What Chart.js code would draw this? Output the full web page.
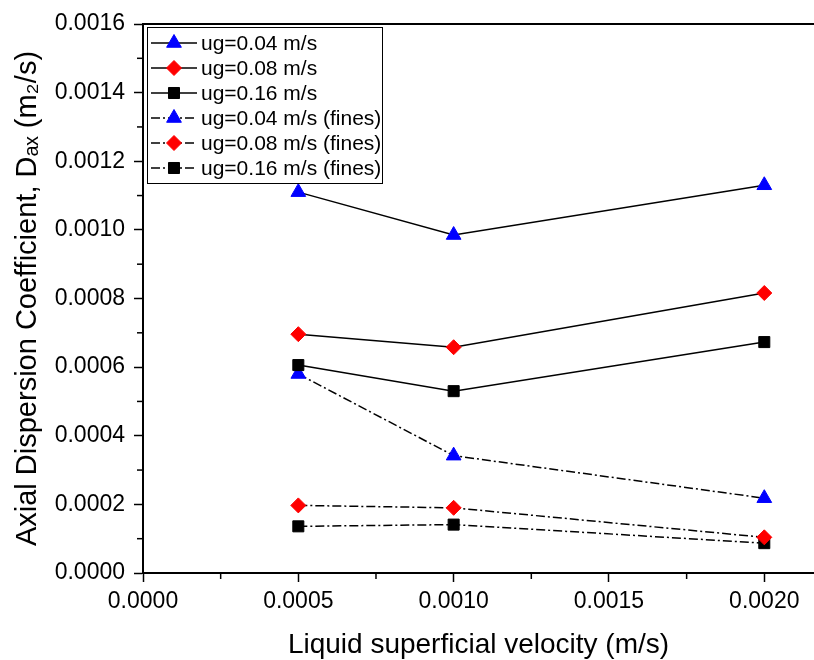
<!DOCTYPE html>
<html>
<head>
<meta charset="utf-8">
<title>Axial Dispersion Coefficient</title>
<script src="https://cdn.jsdelivr.net/npm/chart.js@4/dist/chart.umd.min.js"></script>
<style>
  html, body { margin: 0; padding: 0; background: #fff; }
  #wrap { width: 814px; height: 660px; position: relative; }
</style>
</head>
<body>
<div id="wrap"><canvas id="chart"></canvas></div>
<script>
// -------------------------------
// Data
// -------------------------------
const xValues = [0.0005, 0.0010, 0.0020];

const ug004 = [0.00111, 0.000985, 0.00113];
const ug008 = [0.000696, 0.000658, 0.000816];
const ug016 = [0.000606, 0.00053, 0.000673];
const ug004Fines = [0.00058, 0.000342, 0.000218];
const ug008Fines = [0.000197, 0.00019, 0.000104];
const ug016Fines = [0.000136, 0.000141, 0.000087];

const seriesLabels = [
  "ug=0.04 m/s",
  "ug=0.08 m/s",
  "ug=0.16 m/s",
  "ug=0.04 m/s (fines)",
  "ug=0.08 m/s (fines)",
  "ug=0.16 m/s (fines)",
];

const xTicks = [0.0000, 0.0005, 0.0010, 0.0015, 0.0020];
const xMinorTicks = [0.00025, 0.00075, 0.00125, 0.00175];
const yTicks = [0, 0.0002, 0.0004, 0.0006, 0.0008, 0.0010, 0.0012, 0.0014, 0.0016];
const yMinorTicks = [0.0001, 0.0003, 0.0005, 0.0007, 0.0009, 0.0011, 0.0013, 0.0015];

const FONT = "'Liberation Sans', Arial, sans-serif";
const DASH_DOT = [9, 3, 2, 3];

function points(ys) {
  return xValues.map((x, i) => ({ x, y: ys[i] }));
}

function makeSet(label, ys, color, style, radius, dashed) {
  return {
    label,
    data: points(ys),
    borderColor: "#000",
    borderWidth: 1.5,
    borderDash: dashed ? DASH_DOT : [],
    pointStyle: style,
    pointRadius: radius,
    pointHoverRadius: radius,
    pointBackgroundColor: color,
    pointBorderColor: color,
    pointBorderWidth: 1,
    fill: false,
    tension: 0,
  };
}

// -------------------------------
// Plugins: minor ticks, top frame, legend
// -------------------------------
const framePlugin = {
  id: "frame",
  afterDraw(chart) {
    const { ctx, chartArea, scales } = chart;
    ctx.save();
    ctx.strokeStyle = "#000";

    // top frame line
    ctx.lineWidth = 2;
    ctx.beginPath();
    ctx.moveTo(chartArea.left - 1, chartArea.top);
    ctx.lineTo(chartArea.right, chartArea.top);
    ctx.stroke();

    // minor ticks
    ctx.lineWidth = 1.5;
    xMinorTicks.forEach((v) => {
      const px = scales.x.getPixelForValue(v);
      ctx.beginPath();
      ctx.moveTo(px, chartArea.bottom);
      ctx.lineTo(px, chartArea.bottom + 6);
      ctx.stroke();
    });
    yMinorTicks.forEach((v) => {
      const py = scales.y.getPixelForValue(v);
      ctx.beginPath();
      ctx.moveTo(chartArea.left, py);
      ctx.lineTo(chartArea.left - 6, py);
      ctx.stroke();
    });
    ctx.restore();
  },
};

const legendPlugin = {
  id: "boxLegend",
  afterDraw(chart) {
    const { ctx, chartArea } = chart;
    const left = chartArea.left + 4;
    const top = chartArea.top + 3;
    const w = 235;
    const rowH = 25;
    const h = 156;

    ctx.save();
    ctx.fillStyle = "#fff";
    ctx.fillRect(left, top, w, h);
    ctx.strokeStyle = "#000";
    ctx.lineWidth = 1;
    ctx.strokeRect(left + 0.5, top + 0.5, w, h);

    chart.data.datasets.forEach((ds, i) => {
      const cy = top + 16 + i * rowH;
      ctx.save();
      ctx.strokeStyle = "#000";
      ctx.lineWidth = 1.5;
      ctx.setLineDash(ds.borderDash || []);
      ctx.beginPath();
      ctx.moveTo(left + 4, cy);
      ctx.lineTo(left + 50, cy);
      ctx.stroke();
      ctx.restore();

      ctx.save();
      ctx.fillStyle = ds.pointBackgroundColor;
      ctx.strokeStyle = ds.pointBorderColor;
      ctx.lineWidth = 1;
      Chart.helpers.drawPoint(ctx, { pointStyle: ds.pointStyle, radius: ds.pointRadius, borderWidth: 1, rotation: 0 }, left + 27, cy);
      ctx.restore();

      ctx.fillStyle = "#000";
      ctx.font = "21px " + FONT;
      ctx.textBaseline = "middle";
      ctx.textAlign = "left";
      ctx.fillText(ds.label, left + 54, cy + 1);
    });
    ctx.restore();
  },
};

// -------------------------------
// Chart
// -------------------------------
const ctx = document.getElementById("chart");

new Chart(ctx, {
  type: "line",
  data: {
    datasets: [
      makeSet(seriesLabels[0], ug004, "#0000FF", "triangle", 8.5, false),
      makeSet(seriesLabels[1], ug008, "#FF0000", "rectRot", 7.5, false),
      makeSet(seriesLabels[2], ug016, "#000000", "rect", 7.8, false),
      makeSet(seriesLabels[3], ug004Fines, "#0000FF", "triangle", 8.5, true),
      makeSet(seriesLabels[4], ug008Fines, "#FF0000", "rectRot", 7.5, true),
      makeSet(seriesLabels[5], ug016Fines, "#000000", "rect", 7.8, true),
    ],
  },
  options: {
    responsive: true,
    maintainAspectRatio: false,
    animation: false,
    layout: { autoPadding: false, padding: { left: 0, top: 24, right: 0, bottom: 0 } },
    plugins: {
      legend: { display: false },
      tooltip: { enabled: false },
    },
    scales: {
      x: {
        type: "linear",
        min: 0,
        max: 0.00216,
        afterBuildTicks: (scale) => {
          scale.ticks = xTicks.map((v) => ({ value: v }));
        },
        afterFit: (scale) => {
          scale.height = 87;
          scale.paddingLeft = 0;
          scale.paddingRight = 0;
        },
        ticks: {
          color: "#000",
          font: { family: FONT, size: 23 },
          padding: 6,
          maxRotation: 0,
          autoSkip: false,
          callback: (v) => Number(v).toFixed(4),
        },
        grid: {
          drawOnChartArea: false,
          drawTicks: true,
          tickLength: 9,
          tickColor: "#000",
          tickWidth: 1.5,
        },
        border: { display: true, color: "#000", width: 2 },
        title: {
          display: true,
          text: "Liquid superficial velocity (m/s)",
          color: "#000",
          font: { family: FONT, size: 28 },
          padding: { top: 0, bottom: -2 },
        },
      },
      y: {
        type: "linear",
        min: 0,
        max: 0.0016,
        afterBuildTicks: (scale) => {
          scale.ticks = yTicks.map((v) => ({ value: v }));
        },
        afterFit: (scale) => {
          scale.width = 143;
        },
        ticks: {
          color: "#000",
          font: { family: FONT, size: 23 },
          padding: 9,
          autoSkip: false,
          callback: (v) => Number(v).toFixed(4),
        },
        grid: {
          drawOnChartArea: false,
          drawTicks: true,
          tickLength: 9,
          tickColor: "#000",
          tickWidth: 1.5,
        },
        border: { display: true, color: "#000", width: 2 },
        title: {
          display: true,
          text: "Axial Dispersion Coefficient, D\u2090\u2093 (m\u2082/s)",
          color: "#000",
          font: { family: FONT, size: 29 },
          padding: { top: 11, bottom: 0 },
        },
      },
    },
  },
  plugins: [framePlugin, legendPlugin],
});
</script>
</body>
</html>
